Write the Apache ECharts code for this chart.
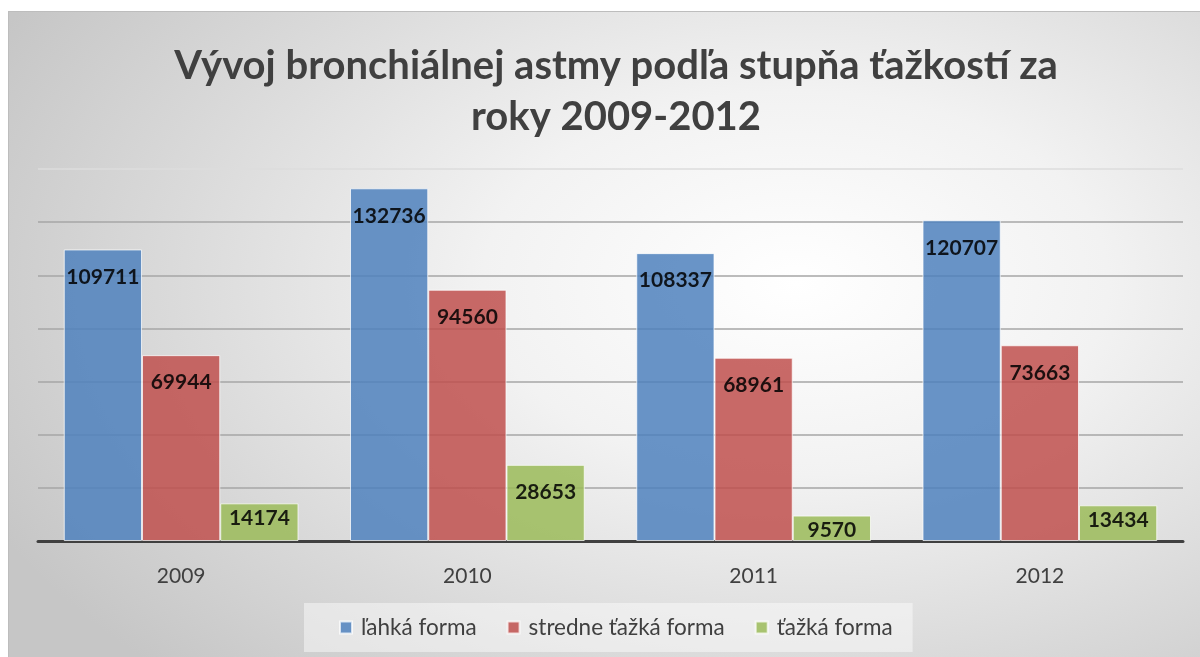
<!DOCTYPE html>
<html>
<head>
<meta charset="utf-8">
<script src="https://cdn.jsdelivr.net/npm/echarts@6/dist/echarts.min.js"></script>
<style>
  html, body { margin:0; padding:0; width:1200px; height:657px; background:#ffffff; overflow:hidden; }
  #frame { position:absolute; left:8px; top:11px; width:1192px; height:646px;
    border-top:1px solid #bdbdbd; border-left:1px solid #bdbdbd;
    background: radial-gradient(ellipse 75% 85% at 66% 42%, #ffffff 0%, #f2f2f2 35%, #dadada 70%, #c6c6c6 100%); }
  #chart { position:absolute; left:0; top:0; width:1200px; height:657px; }
</style>
</head>
<body>
<div id="frame"></div>
<div id="chart"></div>
<script>
const titleText = 'Vývoj bronchiálnej astmy podľa stupňa ťažkostí za\nroky 2009-2012';
const categories = ['2009', '2010', '2011', '2012'];
const seriesNames = ['ľahká forma', 'stredne ťažká forma', 'ťažká forma'];
const lahka = [109711, 132736, 108337, 120707];
const stredne = [69944, 94560, 68961, 73663];
const tazka = [14174, 28653, 9570, 13434];
const yTicks = { min: 0, max: 140000, interval: 20000 };

const colors = ['#4F81BD', '#C0504D', '#9BBB59'];
const font = 'Lato, "Open Sans", sans-serif';

function mkData(arr) {
  return arr.map(v => ({
    value: v,
    label: { distance: v < 20000 ? 4 : 17 }
  }));
}

function mkSeries(name, arr, color) {
  return {
    name: name,
    type: 'bar',
    data: mkData(arr),
    barGap: '0%',
    barCategoryGap: '18%',
    itemStyle: { color: color, opacity: 0.85, borderColor: 'rgba(255,255,255,0.85)', borderWidth: 1 },
    label: {
      show: true, position: 'insideTop', distance: 17,
      color: '#000000', fontFamily: font, fontWeight: 'bold', fontSize: 21
    },
    emphasis: { disabled: true }
  };
}

const chart = echarts.init(document.getElementById('chart'), null, { renderer: 'canvas' });
chart.setOption({
  backgroundColor: 'transparent',
  animation: false,
  title: {
    text: titleText,
    left: 611, top: 36, textAlign: 'center',
    textStyle: { fontFamily: font, fontWeight: 'bold', fontSize: 40, color: '#404040', lineHeight: 51 }
  },
  legend: {
    data: seriesNames,
    left: 304, top: 603,
    padding: [13, 20, 13, 35],
    backgroundColor: 'rgba(255,255,255,0.45)',
    itemWidth: 12, itemHeight: 12, itemGap: 30,
    icon: 'rect',
    textStyle: { fontFamily: font, fontSize: 22.5, color: '#404040', padding: [0, 0, 0, 4] }
  },
  grid: { left: 38, right: 17, top: 169, bottom: 116, containLabel: false },
  xAxis: {
    type: 'category',
    data: categories,
    axisLine: { lineStyle: { color: '#404040', width: 3 } },
    axisTick: { show: false },
    axisLabel: { color: '#404040', fontFamily: font, fontSize: 21, margin: 25 }
  },
  yAxis: {
    type: 'value',
    min: yTicks.min, max: yTicks.max, interval: yTicks.interval,
    axisLabel: { show: false },
    axisLine: { show: false },
    axisTick: { show: false },
    splitLine: { lineStyle: { color: ['#a6a6a6','#a6a6a6','#a6a6a6','#a6a6a6','#a6a6a6','#a6a6a6','#a6a6a6','#dcdcdc'], width: 1.5 } }
  },
  series: [
    mkSeries(seriesNames[0], lahka, colors[0]),
    mkSeries(seriesNames[1], stredne, colors[1]),
    mkSeries(seriesNames[2], tazka, colors[2])
  ]
});
</script>
</body>
</html>
